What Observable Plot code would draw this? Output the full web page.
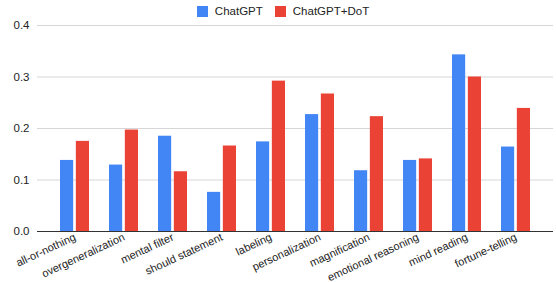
<!DOCTYPE html>
<html>
<head>
<meta charset="utf-8">
<script src="https://cdn.jsdelivr.net/npm/d3@7"></script>
<script src="https://cdn.jsdelivr.net/npm/@observablehq/plot@0.6"></script>
<style>
  html, body { margin: 0; padding: 0; background: #fff; }
  body { width: 556px; height: 282px; overflow: hidden; font-family: "Liberation Sans", Arial, sans-serif; position: relative; }
  #legend { position: absolute; top: 0; left: 0; width: 556px; height: 22px; display: flex; justify-content: center; align-items: center; font-size: 11.5px; color: #222; padding-left: 10px; box-sizing: border-box; z-index: 2; }
  .item { display: flex; align-items: center; margin: 0 6px; }
  .sw { width: 11px; height: 11px; margin-right: 7px; display: inline-block; }
</style>
</head>
<body>
<div id="legend"></div>
<div id="chart"></div>
<script>
const categories = ["all-or-nothing", "overgeneralization", "mental filter", "should statement", "labeling", "personalization", "magnification", "emotional reasoning", "mind reading", "fortune-telling"];
const chatgpt = [0.138, 0.129, 0.185, 0.076, 0.174, 0.227, 0.118, 0.138, 0.343, 0.164];
const chatgptDot = [0.175, 0.197, 0.116, 0.166, 0.292, 0.267, 0.223, 0.141, 0.300, 0.239];
const seriesNames = ["ChatGPT", "ChatGPT+DoT"];
const seriesColors = ["#4285F4", "#EA4335"];
const yTicks = [0, 0.1, 0.2, 0.3, 0.4];

const legend = document.getElementById("legend");
seriesNames.forEach((n, i) => {
  const it = document.createElement("span");
  it.className = "item";
  it.innerHTML = `<span class="sw" style="background:${seriesColors[i]}"></span><span>${n}</span>`;
  legend.appendChild(it);
});

const rowsA = categories.map((c, i) => ({category: c, value: chatgpt[i]}));
const rowsB = categories.map((c, i) => ({category: c, value: chatgptDot[i]}));

const step = 516 / (10 - 0.405 + 2 * 0.375);
const bw = step * (1 - 0.405);
const inset = bw / 2 + 1;

const chart = Plot.plot({
  width: 556,
  height: 282,
  marginLeft: 37,
  marginRight: 3,
  marginTop: 25,
  marginBottom: 51,
  style: {fontFamily: "'Liberation Sans', Arial, sans-serif", fontSize: "11px", color: "#222", background: "#fff"},
  x: {domain: categories, paddingInner: 0.405, paddingOuter: 0.375, label: null, tickSize: 0, tickPadding: 5, tickRotate: -25},
  y: {domain: [0, 0.4], ticks: yTicks, tickFormat: ".1f", label: null, tickSize: 0, tickPadding: 8},
  marks: [
    Plot.ruleY(yTicks.slice(1), {stroke: "#d6d6d6", strokeWidth: 1}),
    Plot.barY(rowsA, {x: "category", y: "value", fill: seriesColors[0], insetRight: inset}),
    Plot.barY(rowsB, {x: "category", y: "value", fill: seriesColors[1], insetLeft: inset}),
    Plot.ruleY([0], {stroke: "#333", strokeWidth: 1})
  ]
});
chart.querySelectorAll("g[aria-label='y-axis tick label'] text").forEach(t => t.style.fontSize = "11.5px");
document.getElementById("chart").appendChild(chart);
</script>
</body>
</html>
